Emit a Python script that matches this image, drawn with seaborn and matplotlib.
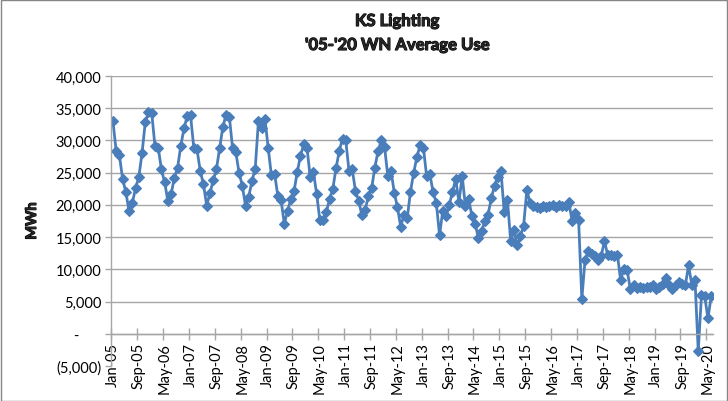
import numpy as np
import pandas as pd
import matplotlib
matplotlib.use("Agg")
import matplotlib.pyplot as plt
import matplotlib.patheffects as pe
import seaborn as sns
from matplotlib import font_manager
from matplotlib.font_manager import FontProperties
from matplotlib.patches import Rectangle
from matplotlib.ticker import FuncFormatter

# Weather-normalized monthly lighting use (MWh), Jan-2005 onward
use_2005 = [33000, 28400, 27700, 24000, 22000, 19000, 20300, 22600, 24300, 28000, 32800, 34400]
use_2006 = [34300, 29100, 28900, 25500, 23500, 20600, 21700, 24200, 25800, 29200, 31900, 33800]
use_2007 = [33900, 28900, 28600, 25300, 23200, 19900, 21800, 23800, 25500, 28800, 32100, 34000]
use_2008 = [33700, 28800, 28200, 25000, 23000, 19900, 21300, 23700, 25600, 33000, 32000, 33400]
use_2009 = [28900, 24600, 24800, 21400, 20700, 17100, 19000, 20900, 22100, 25100, 27600, 29400]
use_2010 = [28900, 24400, 25100, 21700, 17600, 17600, 18900, 20900, 22500, 25700, 28400, 30300]
use_2011 = [30000, 25300, 25500, 22200, 20600, 18400, 19200, 21400, 22600, 25800, 28400, 30000]
use_2012 = [29000, 24500, 25300, 21900, 19600, 16600, 18500, 17900, 22000, 25000, 27400, 29300]
use_2013 = [28900, 24500, 24800, 22000, 20300, 15300, 19100, 18300, 20000, 22000, 24000, 20400]
use_2014 = [24500, 19800, 20900, 18300, 17100, 14900, 15900, 17500, 18500, 21000, 23000, 24400]
use_2015 = [25200, 18900, 20700, 14400, 16100, 13700, 15100, 16800, 22300, 20300, 19900, 19700]
use_2016 = [19500, 19800, 19600, 19900, 20000, 19700, 20000, 19800, 19900, 20400, 17500, 18800]
use_2017 = [17700, 5400, 11500, 12800, 12400, 12000, 11400, 12100, 14400, 12200, 12200, 12100]
use_2018 = [12300, 8300, 10100, 9900, 6900, 7500, 7100, 7200, 7100, 7200, 7200, 7500]
use_2019 = [6900, 7300, 7700, 8600, 7600, 6900, 7500, 8100, 7700, 7500, 10600, 7600]
use_2020 = [8300, -2700, 6000, 5800, 2400, 5800]

mwh = (use_2005 + use_2006 + use_2007 + use_2008 + use_2009 + use_2010 + use_2011
       + use_2012 + use_2013 + use_2014 + use_2015 + use_2016 + use_2017 + use_2018
       + use_2019 + use_2020)

months = pd.date_range("2005-01-01", periods=len(mwh), freq="MS")
month_labels = [d.strftime("%b-%y") for d in months]
label_step = 8

y_ticks = list(range(-5000, 40001, 5000))

sns.set_theme(style="white")
plt.rcParams["font.family"] = ["Lato", "DejaVu Sans"]


def heading_font(size):
    """Heaviest Lato face available, thickened with a thin outline."""
    try:
        fb = font_manager.findfont(FontProperties(family="Lato", weight="bold"),
                                   fallback_to_default=False)
        fp = FontProperties(fname=fb, size=size)
    except Exception:
        fp = FontProperties(family="Lato", weight="bold", size=size)
    return fp, [pe.withStroke(linewidth=0.8, foreground="black")]


W, H = 728, 402
fig = plt.figure(figsize=(W / 100, H / 100), dpi=100)
left, right, top, bottom = 111.3, 712.8, 77, 367
ax = fig.add_axes([left / W, 1 - bottom / H, (right - left) / W, (bottom - top) / H])

df = pd.DataFrame({"idx": np.arange(len(mwh)), "MWh": mwh})
line_color = "#4A7EBB"
sns.lineplot(data=df, x="idx", y="MWh", ax=ax, color=line_color, linewidth=2.0,
             marker="D", markersize=5, markeredgecolor=line_color,
             markerfacecolor=line_color, markeredgewidth=0.8)

grid_color = "#A6A6A6"
ax.set_xlim(-0.5, len(mwh) - 0.5)
ax.set_ylim(-5000, 40000)
ax.set_yticks(y_ticks)


def fmt_val(v, pos):
    if v < 0:
        return f"({abs(v):,.0f})"
    if v == 0:
        return "-      "
    return f"{v:,.0f}"


ax.yaxis.set_major_formatter(FuncFormatter(fmt_val))
ax.grid(axis="y", color=grid_color, linewidth=1.0)
ax.grid(axis="x", visible=False)
ax.yaxis.get_gridlines()[0].set_visible(False)
ax.set_axisbelow(True)

# category boundaries carry the tick marks, labels sit on the month itself
bounds = np.arange(-0.5, len(mwh), label_step)
centers = np.arange(0, len(mwh), label_step)
ax.set_xticks(bounds)
ax.set_xticklabels([""] * len(bounds))
ax.set_xticks(centers, minor=True)
ax.set_xticklabels([month_labels[i] for i in centers], minor=True)
ax.tick_params(axis="x", which="major", direction="inout", length=8, width=1,
               color=grid_color, bottom=True)
ax.tick_params(axis="x", which="minor", length=0, pad=6, bottom=True,
               labelrotation=90, labelsize=10.5, labelcolor="#000000")
ax.tick_params(axis="y", direction="out", length=4, width=1, color=grid_color,
               labelsize=10.5, labelcolor="#000000", pad=3, left=True)
for lab in ax.get_xticklabels(minor=True):
    lab.set_verticalalignment("top")
    lab.set_horizontalalignment("center")

for s in ["top", "right"]:
    ax.spines[s].set_visible(False)
ax.spines["bottom"].set_position(("data", 0))
ax.spines["bottom"].set_color(grid_color)
ax.spines["left"].set_color(grid_color)
ax.spines["bottom"].set_linewidth(1)
ax.spines["left"].set_linewidth(1)

ax.set_xlabel("")
ax.set_ylabel("")
fp_axis, fx_axis = heading_font(10.5)
fp_title, fx_title = heading_font(12)
fig.text(32 / W, 1 - 222 / H, "MWh", rotation=90, fontproperties=fp_axis,
         ha="center", va="center", path_effects=fx_axis)
fig.text(397 / W, 1 - 22 / H, "KS Lighting", fontproperties=fp_title,
         ha="center", va="center", path_effects=fx_title)
fig.text(397 / W, 1 - 46 / H, "'05-'20 WN Average Use", fontproperties=fp_title,
         ha="center", va="center", path_effects=fx_title)

fig.patches.append(Rectangle((0.5 / W, 0.5 / H), 1 - 1.5 / W, 1 - 1.5 / H,
                             transform=fig.transFigure, fill=False,
                             edgecolor="#868686", linewidth=1.0))

fig.savefig("out.png", dpi=100)
